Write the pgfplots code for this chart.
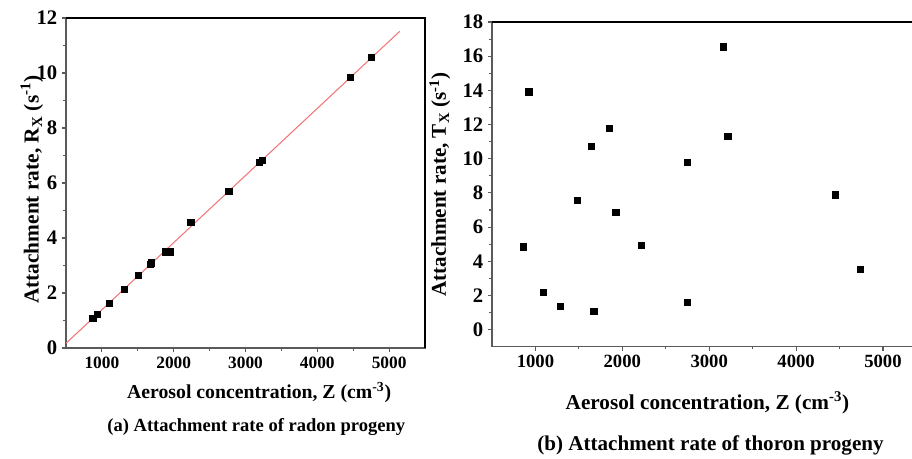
\documentclass[border=0pt]{standalone}
\usepackage{fontspec}
\setmainfont{Liberation Serif}
\usepackage{pgfplots}
\pgfplotsset{compat=1.18}
\definecolor{fitred}{RGB}{240,120,120}
\definecolor{spine}{RGB}{90,90,90}

\pgfplotstableread{
z r
873 1.08
938 1.24
1101 1.64
1311 2.15
1503 2.63
1670 3.04
1685 3.10
1885 3.50
1945 3.50
2238 4.56
2766 5.71
3190 6.74
3237 6.83
4462 9.85
4756 10.56
}\radon

\pgfplotstableread{
z t
857 4.85
923 13.92
1086 2.21
1290 1.35
1483 7.57
1642 10.75
1672 1.07
1846 11.80
1924 6.89
2217 4.93
2747 9.78
2747 1.59
3165 16.55
3214 11.31
4448 7.89
4741 3.52
}\thoron

\pgfplotsset{
  panel/.style={
    scale only axis,
    clip=false,
    axis line style={spine, line width=1pt},
    tick align=outside,
    tick pos=left,
    tick style={spine, line width=0.8pt},
    major tick length=3pt,
    minor tick length=2pt,
    minor x tick num=1,
    minor y tick num=1,
    scaled x ticks=false,
    /pgf/number format/1000 sep={},
    /pgf/number format/assume math mode=true,
    xtick={1000,2000,3000,4000,5000},
  },
}

\begin{document}
\begin{tikzpicture}
% (a) radon progeny
\begin{axis}[panel,
  at={(0pt,0pt)}, anchor=south west,
  width=269.25pt, height=247.5pt,
  xmin=500, xmax=5500, ymin=0, ymax=12,
  ytick={0,2,4,6,8,10,12},
  xticklabel style={font=\bfseries\fontsize{13}{13}\selectfont},
  yticklabel style={font=\bfseries\fontsize{15.5}{15.5}\selectfont},
]
\draw[black, line width=1.2pt] (rel axis cs:0,1) -- (rel axis cs:1,1) -- (rel axis cs:1,0);
\addplot[fitred, line width=0.8pt] coordinates {(500,0.17) (5150,11.52)};
\addplot[only marks, mark=square*, mark size=2.3pt, black] table[x=z, y=r] {\radon};
\node[rotate=90, font=\bfseries\fontsize{16}{16}\selectfont] at (axis description cs:-0.095,0.48) {Attachment rate, R\textsubscript{X} (s\textsuperscript{-1})};
\node[font=\bfseries\fontsize{14.8}{14.8}\selectfont] at (axis description cs:0.538,-0.136) {Aerosol concentration, Z (cm\textsuperscript{-3})};
\node[font=\bfseries\fontsize{13.9}{13.9}\selectfont] at (axis description cs:0.53,-0.239) {(a) Attachment rate of radon progeny};
\end{axis}

% (b) thoron progeny
\begin{axis}[panel,
  at={(319.5pt,0.98pt)}, anchor=south west,
  width=325.8pt, height=243.5pt,
  xmin=500, xmax=5500, ymin=-1, ymax=18,
  ytick={0,2,4,6,8,10,12,14,16,18},
  xticklabel style={font=\bfseries\fontsize{14}{14}\selectfont},
  yticklabel style={font=\bfseries\fontsize{15.5}{15.5}\selectfont},
]
\draw[black, line width=1.4pt] (rel axis cs:0,1) -- (rel axis cs:1,1);
\addplot[only marks, mark=square*, mark size=2.3pt, black] table[x=z, y=t] {\thoron};
\node[rotate=90, font=\bfseries\fontsize{15.8}{15.8}\selectfont] at (axis description cs:-0.12,0.5) {Attachment rate, T\textsubscript{X} (s\textsuperscript{-1})};
\node[font=\bfseries\fontsize{15.9}{15.9}\selectfont] at (axis description cs:0.496,-0.173) {Aerosol concentration, Z (cm\textsuperscript{-3})};
\node[font=\bfseries\fontsize{15.8}{15.8}\selectfont] at (axis description cs:0.503,-0.303) {(b) Attachment rate of thoron progeny};
\end{axis}

\pgfresetboundingbox
\path[use as bounding box] (-49.5pt,-82.5pt) rectangle (634.5pt,261pt);
\end{tikzpicture}
\end{document}
